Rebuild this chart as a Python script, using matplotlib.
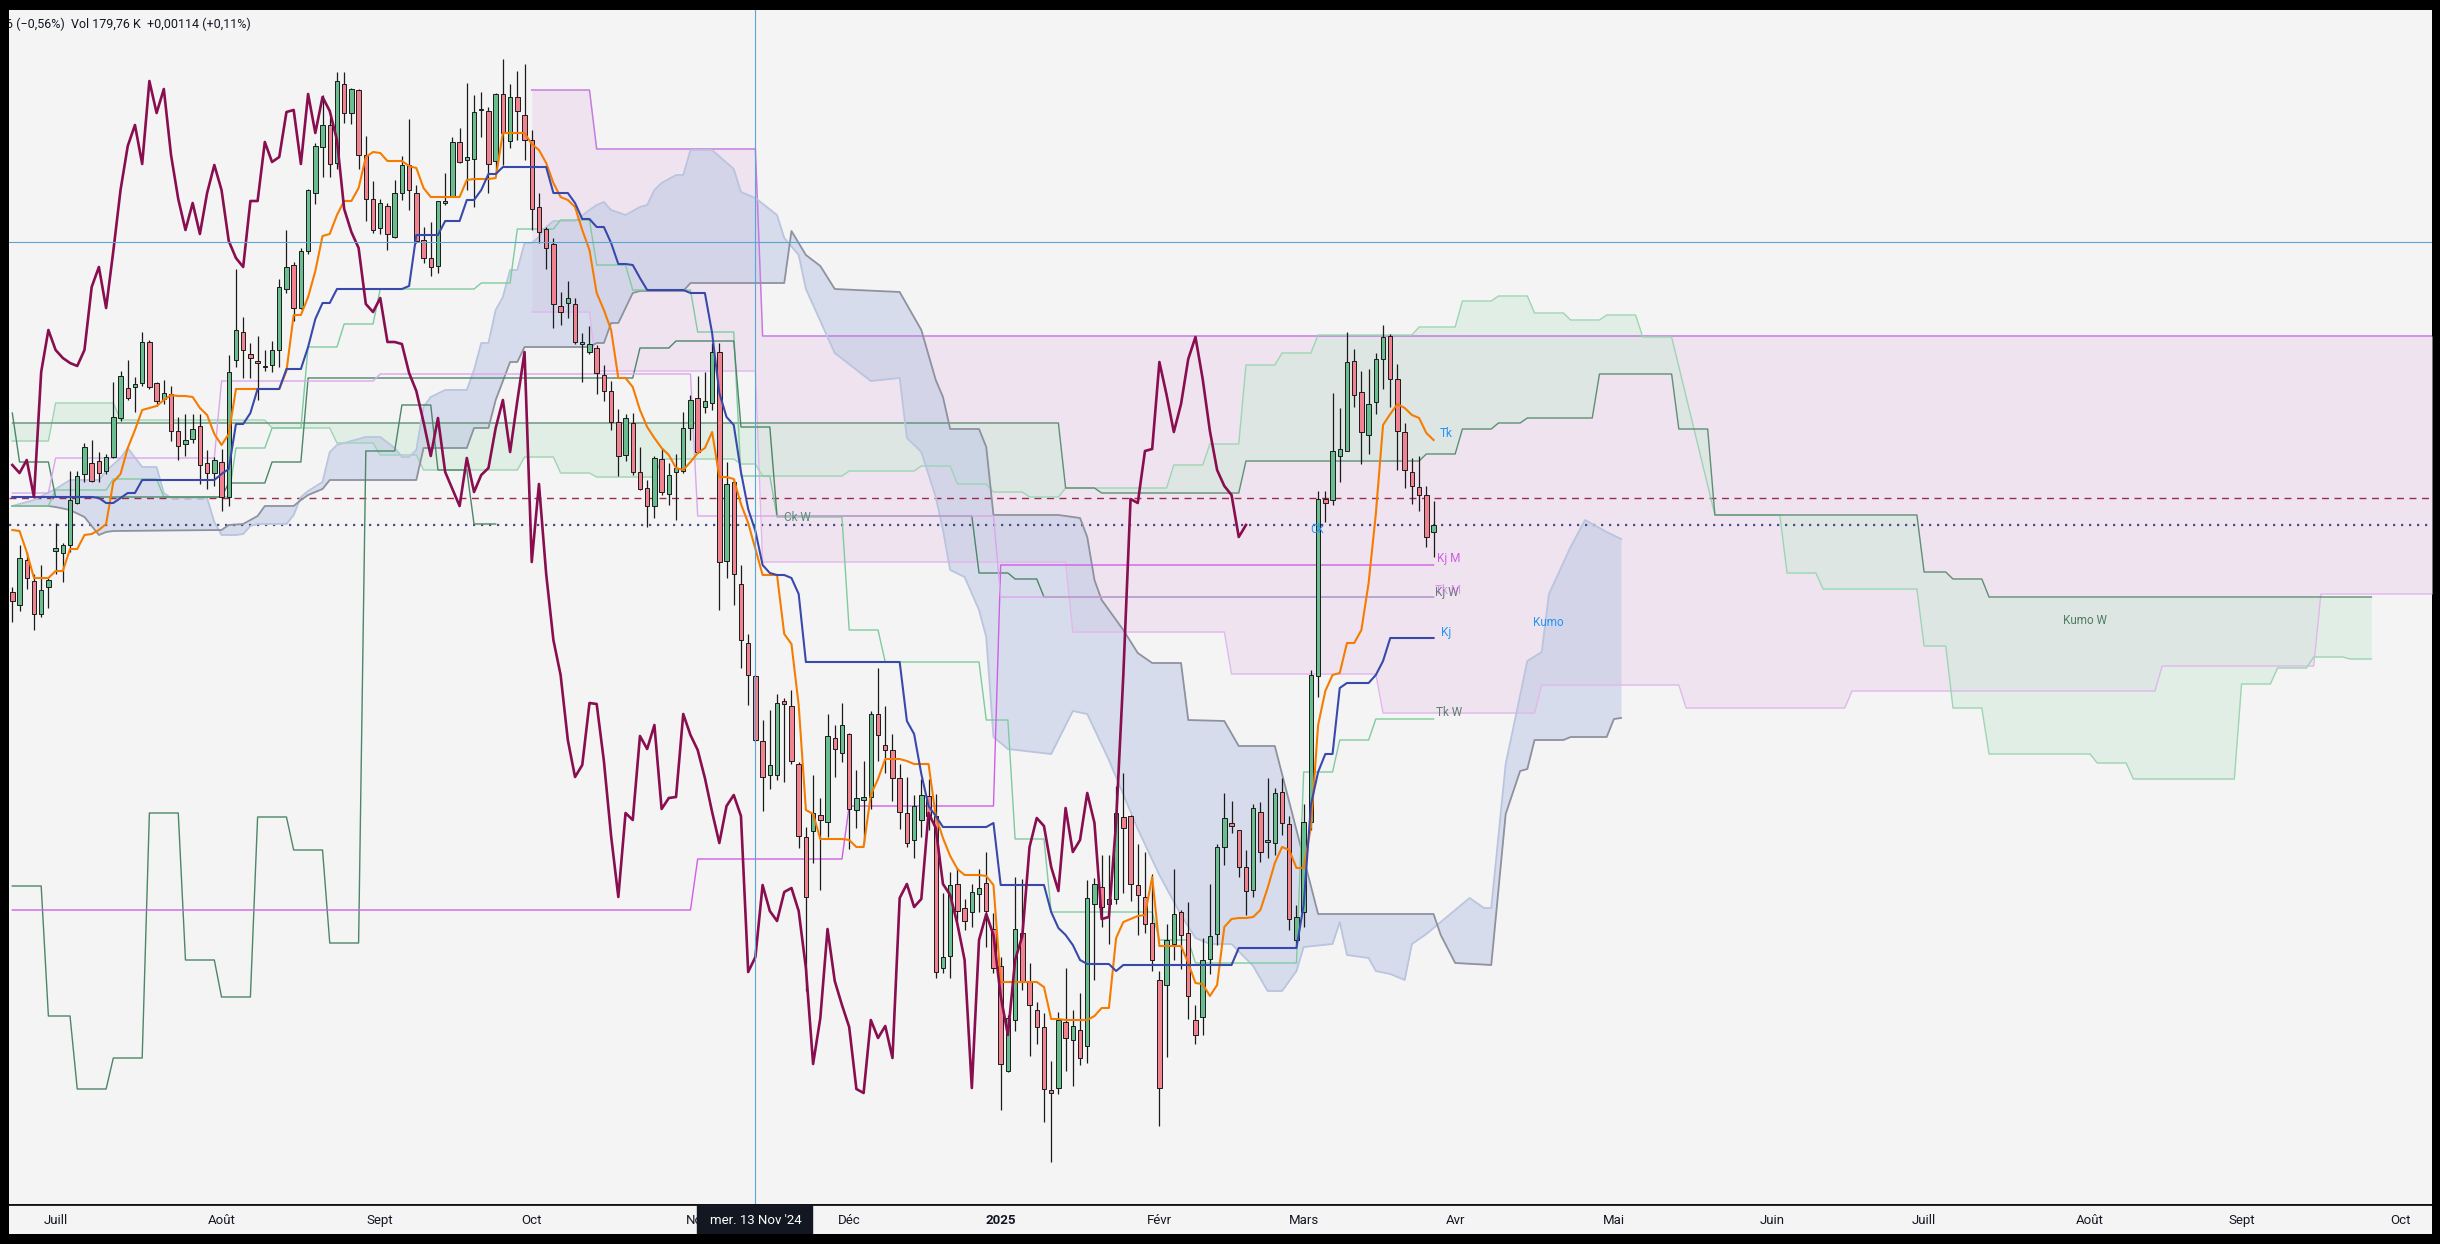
import numpy as np
import pandas as pd
import matplotlib
matplotlib.use("Agg")
import matplotlib.pyplot as plt
from matplotlib.patches import Rectangle

plt.rcParams['font.family'] = ['Roboto', 'DejaVu Sans']

# EUR/USD daily, 21 Jun 2024 -> 27 Mar 2025
# bar numbers are counted from Mon 1 Jul 2024 (= 0), the first candle is bar -6
first_bar = -6

opens = [1.0688, 1.0675, 1.0720, 1.0699, 1.0666, 1.0693,
         1.0729, 1.0727, 1.0735, 1.0777, 1.0806, 1.0817, 1.0819, 1.0809, 1.0823, 1.0862,
         1.0892, 1.0893, 1.0897, 1.0938, 1.0897, 1.0881, 1.0886, 1.0849, 1.0836, 1.0841,
         1.0854, 1.0817, 1.0807, 1.0818, 1.0783, 1.0920, 1.0948, 1.0926, 1.0919, 1.0913,
         1.0915, 1.0930, 1.0991, 1.1015, 1.0972, 1.1029, 1.1087, 1.1133, 1.1155, 1.1117,
         1.1196, 1.1167, 1.1190, 1.1125, 1.1081, 1.1052, 1.1074, 1.1043, 1.1087, 1.1115,
         1.1087, 1.1040, 1.1022, 1.1014, 1.1077, 1.1083, 1.1138, 1.1120, 1.1121, 1.1170,
         1.1169, 1.1119, 1.1186, 1.1139, 1.1183, 1.1165, 1.1140, 1.1073, 1.1051, 1.1036,
         1.0974, 1.0977, 1.0976, 1.0936, 1.0928, 1.0932, 1.0905, 1.0889, 1.0858, 1.0825,
         1.0857, 1.0808, 1.0792, 1.0774, 1.0821, 1.0786, 1.0808, 1.0809, 1.0852, 1.0882,
         1.0873, 1.0877, 1.0928, 1.0719, 1.0798, 1.0696, 1.0637, 1.0604, 1.0539, 1.0505,
         1.0505, 1.0579, 1.0574, 1.0516, 1.0443, 1.0449, 1.0465, 1.0458, 1.0542, 1.0527,
         1.0546, 1.0470, 1.0480, 1.0483, 1.0566, 1.0535, 1.0530, 1.0502, 1.0467, 1.0440,
         1.0460, 1.0484, 1.0464, 1.0312, 1.0324, 1.0396, 1.0372, 1.0368, 1.0386, 1.0397,
         1.0351, 1.0314, 1.0209, 1.0260, 1.0347, 1.0298, 1.0270, 1.0253, 1.0190, 1.0192,
         1.0258, 1.0240, 1.0250, 1.0234, 1.0376, 1.0393, 1.0376, 1.0381, 1.0463, 1.0464,
         1.0395, 1.0383, 1.0357, 1.0300, 1.0295, 1.0336, 1.0368, 1.0347, 1.0260, 1.0263,
         1.0321, 1.0346, 1.0433, 1.0457, 1.0450, 1.0413, 1.0390, 1.0468, 1.0438, 1.0437,
         1.0488, 1.0456, 1.0340, 1.0368, 1.0458, 1.0604, 1.0781, 1.0780, 1.0824, 1.0829,
         1.0919, 1.0888, 1.0845, 1.0878, 1.0921, 1.0944, 1.0901, 1.0848, 1.0808, 1.0793,
         1.0785, 1.0748]
highs = [1.0693, 1.0735, 1.0728, 1.0706, 1.0715, 1.0702,
         1.0757, 1.0737, 1.0809, 1.0809, 1.0837, 1.0840, 1.0828, 1.0826, 1.0898, 1.0909,
         1.0920, 1.0903, 1.0948, 1.0940, 1.0898, 1.0900, 1.0894, 1.0863, 1.0866, 1.0866,
         1.0866, 1.0830, 1.0823, 1.0831, 1.0925, 1.1011, 1.0963, 1.0937, 1.0944, 1.0930,
         1.0939, 1.1001, 1.1050, 1.1018, 1.1032, 1.1091, 1.1137, 1.1185, 1.1163, 1.1208,
         1.1208, 1.1192, 1.1191, 1.1144, 1.1099, 1.1081, 1.1077, 1.1100, 1.1124, 1.1161,
         1.1095, 1.1053, 1.1058, 1.1079, 1.1107, 1.1143, 1.1152, 1.1197, 1.1185, 1.1188,
         1.1173, 1.1187, 1.1221, 1.1196, 1.1209, 1.1216, 1.1150, 1.1087, 1.1053, 1.1042,
         1.0988, 1.0999, 1.0982, 1.0947, 1.0954, 1.0935, 1.0915, 1.0899, 1.0871, 1.0866,
         1.0867, 1.0833, 1.0800, 1.0824, 1.0832, 1.0817, 1.0826, 1.0868, 1.0885, 1.0904,
         1.0908, 1.0937, 1.0937, 1.0818, 1.0801, 1.0715, 1.0646, 1.0606, 1.0560, 1.0570,
         1.0586, 1.0582, 1.0590, 1.0518, 1.0453, 1.0505, 1.0482, 1.0566, 1.0555, 1.0577,
         1.0547, 1.0510, 1.0519, 1.0569, 1.0612, 1.0574, 1.0546, 1.0516, 1.0503, 1.0485,
         1.0501, 1.0501, 1.0486, 1.0387, 1.0408, 1.0412, 1.0381, 1.0396, 1.0411, 1.0428,
         1.0367, 1.0323, 1.0265, 1.0403, 1.0401, 1.0317, 1.0278, 1.0267, 1.0219, 1.0268,
         1.0312, 1.0270, 1.0287, 1.0400, 1.0402, 1.0425, 1.0425, 1.0494, 1.0507, 1.0465,
         1.0436, 1.0428, 1.0406, 1.0309, 1.0356, 1.0411, 1.0370, 1.0378, 1.0275, 1.0342,
         1.0396, 1.0436, 1.0487, 1.0479, 1.0450, 1.0430, 1.0476, 1.0478, 1.0502, 1.0492,
         1.0502, 1.0464, 1.0375, 1.0476, 1.0610, 1.0789, 1.0789, 1.0887, 1.0872, 1.0948,
         1.0931, 1.0909, 1.0911, 1.0927, 1.0955, 1.0946, 1.0916, 1.0857, 1.0822, 1.0824,
         1.0794, 1.0779]
lows = [1.0658, 1.0669, 1.0691, 1.0650, 1.0663, 1.0672,
        1.0706, 1.0698, 1.0728, 1.0776, 1.0798, 1.0798, 1.0798, 1.0806, 1.0822, 1.0859,
        1.0880, 1.0868, 1.0894, 1.0891, 1.0874, 1.0876, 1.0839, 1.0820, 1.0824, 1.0837,
        1.0796, 1.0791, 1.0794, 1.0769, 1.0774, 1.0913, 1.0902, 1.0902, 1.0880, 1.0909,
        1.0908, 1.0913, 1.0987, 1.0959, 1.0971, 1.1026, 1.1076, 1.1103, 1.1103, 1.1111,
        1.1157, 1.1156, 1.1111, 1.1059, 1.1047, 1.1046, 1.1030, 1.1042, 1.1080, 1.1070,
        1.1037, 1.1017, 1.1004, 1.1007, 1.1075, 1.1083, 1.1117, 1.1090, 1.1073, 1.1143,
        1.1087, 1.1108, 1.1115, 1.1132, 1.1140, 1.1120, 1.1050, 1.1037, 1.1011, 1.0952,
        1.0955, 1.0962, 1.0936, 1.0898, 1.0926, 1.0886, 1.0879, 1.0850, 1.0804, 1.0819,
        1.0805, 1.0790, 1.0753, 1.0762, 1.0785, 1.0775, 1.0760, 1.0807, 1.0840, 1.0827,
        1.0867, 1.0870, 1.0670, 1.0702, 1.0675, 1.0612, 1.0575, 1.0538, 1.0469, 1.0491,
        1.0500, 1.0498, 1.0516, 1.0432, 1.0289, 1.0417, 1.0390, 1.0443, 1.0503, 1.0518,
        1.0431, 1.0452, 1.0437, 1.0471, 1.0519, 1.0507, 1.0479, 1.0451, 1.0433, 1.0422,
        1.0443, 1.0450, 1.0302, 1.0307, 1.0302, 1.0359, 1.0350, 1.0353, 1.0368, 1.0333,
        1.0307, 1.0170, 1.0208, 1.0249, 1.0290, 1.0224, 1.0236, 1.0158, 1.0118, 1.0186,
        1.0209, 1.0194, 1.0215, 1.0217, 1.0300, 1.0353, 1.0336, 1.0376, 1.0387, 1.0379,
        1.0345, 1.0347, 1.0309, 1.0154, 1.0223, 1.0320, 1.0311, 1.0261, 1.0236, 1.0245,
        1.0306, 1.0335, 1.0415, 1.0447, 1.0403, 1.0365, 1.0383, 1.0418, 1.0422, 1.0425,
        1.0445, 1.0350, 1.0334, 1.0353, 1.0450, 1.0583, 1.0758, 1.0775, 1.0798, 1.0829,
        1.0873, 1.0816, 1.0826, 1.0866, 1.0891, 1.0873, 1.0810, 1.0792, 1.0776, 1.0769,
        1.0733, 1.0723]
closes = [1.0679, 1.0722, 1.0702, 1.0666, 1.0690, 1.0700,
          1.0732, 1.0735, 1.0780, 1.0804, 1.0833, 1.0799, 1.0807, 1.0823, 1.0863, 1.0904,
          1.0882, 1.0896, 1.0938, 1.0893, 1.0879, 1.0887, 1.0849, 1.0834, 1.0840, 1.0851,
          1.0815, 1.0807, 1.0820, 1.0783, 1.0908, 1.0950, 1.0930, 1.0922, 1.0917, 1.0914,
          1.0930, 1.0993, 1.1013, 1.0972, 1.1029, 1.1090, 1.1134, 1.1155, 1.1116, 1.1199,
          1.1167, 1.1191, 1.1125, 1.1081, 1.1050, 1.1077, 1.1046, 1.1087, 1.1115, 1.1090,
          1.1039, 1.1022, 1.1013, 1.1079, 1.1079, 1.1138, 1.1118, 1.1123, 1.1168, 1.1170,
          1.1116, 1.1186, 1.1147, 1.1183, 1.1169, 1.1140, 1.1071, 1.1048, 1.1032, 1.0976,
          1.0968, 1.0982, 1.0938, 1.0938, 1.0936, 1.0907, 1.0889, 1.0858, 1.0824, 1.0862,
          1.0808, 1.0791, 1.0774, 1.0822, 1.0788, 1.0805, 1.0812, 1.0852, 1.0880, 1.0828,
          1.0879, 1.0928, 1.0718, 1.0796, 1.0706, 1.0640, 1.0605, 1.0540, 1.0503, 1.0515,
          1.0577, 1.0576, 1.0519, 1.0444, 1.0383, 1.0467, 1.0460, 1.0544, 1.0531, 1.0555,
          1.0471, 1.0482, 1.0483, 1.0566, 1.0545, 1.0530, 1.0502, 1.0468, 1.0437, 1.0474,
          1.0485, 1.0464, 1.0308, 1.0323, 1.0395, 1.0369, 1.0359, 1.0388, 1.0392, 1.0369,
          1.0312, 1.0216, 1.0262, 1.0351, 1.0299, 1.0275, 1.0253, 1.0191, 1.0187, 1.0260,
          1.0242, 1.0254, 1.0222, 1.0382, 1.0396, 1.0373, 1.0381, 1.0467, 1.0452, 1.0396,
          1.0385, 1.0356, 1.0320, 1.0192, 1.0340, 1.0366, 1.0345, 1.0284, 1.0245, 1.0320,
          1.0344, 1.0433, 1.0462, 1.0454, 1.0413, 1.0389, 1.0472, 1.0428, 1.0440, 1.0487,
          1.0457, 1.0361, 1.0363, 1.0458, 1.0605, 1.0781, 1.0777, 1.0829, 1.0831, 1.0918,
          1.0885, 1.0848, 1.0876, 1.0921, 1.0943, 1.0901, 1.0849, 1.0810, 1.0794, 1.0785,
          1.0743, 1.0755]

# daily Ichimoku lines, one value per candle
tenkan = [1.0750, 1.0749, 1.0728, 1.0702, 1.0702, 1.0702,
          1.0709, 1.0709, 1.0731, 1.0731, 1.0745, 1.0746, 1.0750, 1.0756, 1.0798, 1.0806,
          1.0832, 1.0850, 1.0870, 1.0872, 1.0874, 1.0880, 1.0885, 1.0884, 1.0884, 1.0883,
          1.0872, 1.0865, 1.0846, 1.0835, 1.0846, 1.0891, 1.0891, 1.0891, 1.0891, 1.0891,
          1.0891, 1.0891, 1.0909, 1.0965, 1.0965, 1.0983, 1.1009, 1.1044, 1.1046, 1.1065,
          1.1079, 1.1079, 1.1092, 1.1123, 1.1128, 1.1127, 1.1119, 1.1119, 1.1119, 1.1114,
          1.1112, 1.1092, 1.1083, 1.1083, 1.1083, 1.1083, 1.1083, 1.1100, 1.1101, 1.1101,
          1.1101, 1.1102, 1.1147, 1.1147, 1.1147, 1.1147, 1.1136, 1.1130, 1.1117, 1.1097,
          1.1083, 1.1080, 1.1073, 1.1050, 1.1030, 1.0987, 1.0970, 1.0950, 1.0902, 1.0902,
          1.0893, 1.0870, 1.0853, 1.0842, 1.0832, 1.0825, 1.0812, 1.0810, 1.0818, 1.0827,
          1.0832, 1.0848, 1.0803, 1.0803, 1.0801, 1.0776, 1.0757, 1.0731, 1.0705, 1.0705,
          1.0705, 1.0646, 1.0636, 1.0575, 1.0470, 1.0466, 1.0441, 1.0441, 1.0441, 1.0441,
          1.0440, 1.0433, 1.0433, 1.0485, 1.0501, 1.0521, 1.0521, 1.0521, 1.0519, 1.0516,
          1.0516, 1.0516, 1.0464, 1.0442, 1.0424, 1.0411, 1.0405, 1.0405, 1.0405, 1.0404,
          1.0395, 1.0298, 1.0298, 1.0298, 1.0298, 1.0298, 1.0298, 1.0293, 1.0261, 1.0261,
          1.0260, 1.0260, 1.0260, 1.0260, 1.0264, 1.0272, 1.0272, 1.0342, 1.0358, 1.0361,
          1.0364, 1.0365, 1.0403, 1.0334, 1.0334, 1.0334, 1.0334, 1.0317, 1.0297, 1.0296,
          1.0284, 1.0295, 1.0353, 1.0361, 1.0362, 1.0362, 1.0363, 1.0370, 1.0392, 1.0417,
          1.0433, 1.0430, 1.0412, 1.0412, 1.0453, 1.0555, 1.0589, 1.0605, 1.0607, 1.0637,
          1.0637, 1.0650, 1.0697, 1.0766, 1.0855, 1.0866, 1.0876, 1.0872, 1.0865, 1.0862,
          1.0847, 1.0840]
kijun = [1.0783, 1.0783, 1.0783, 1.0783, 1.0783, 1.0783,
         1.0783, 1.0783, 1.0783, 1.0783, 1.0783, 1.0783, 1.0782, 1.0777, 1.0777, 1.0782,
         1.0787, 1.0787, 1.0800, 1.0800, 1.0800, 1.0800, 1.0800, 1.0800, 1.0800, 1.0800,
         1.0800, 1.0800, 1.0800, 1.0806, 1.0811, 1.0856, 1.0856, 1.0867, 1.0891, 1.0891,
         1.0891, 1.0891, 1.0911, 1.0911, 1.0911, 1.0933, 1.0961, 1.0977, 1.0977, 1.0991,
         1.0991, 1.0991, 1.0991, 1.0991, 1.0991, 1.0991, 1.0991, 1.0991, 1.0991, 1.0994,
         1.1045, 1.1045, 1.1045, 1.1045, 1.1059, 1.1059, 1.1059, 1.1080, 1.1080, 1.1090,
         1.1106, 1.1106, 1.1113, 1.1113, 1.1113, 1.1113, 1.1113, 1.1113, 1.1113, 1.1087,
         1.1087, 1.1087, 1.1077, 1.1061, 1.1061, 1.1053, 1.1053, 1.1037, 1.1016, 1.1016,
         1.1015, 1.1002, 1.0990, 1.0990, 1.0990, 1.0990, 1.0990, 1.0990, 1.0987, 1.0987,
         1.0987, 1.0947, 1.0887, 1.0863, 1.0855, 1.0808, 1.0771, 1.0749, 1.0715, 1.0707,
         1.0705, 1.0705, 1.0702, 1.0686, 1.0618, 1.0618, 1.0618, 1.0618, 1.0618, 1.0618,
         1.0618, 1.0618, 1.0618, 1.0618, 1.0618, 1.0618, 1.0618, 1.0618, 1.0559, 1.0546,
         1.0506, 1.0474, 1.0464, 1.0453, 1.0453, 1.0453, 1.0453, 1.0453, 1.0453, 1.0453,
         1.0457, 1.0395, 1.0395, 1.0395, 1.0395, 1.0395, 1.0395, 1.0395, 1.0368, 1.0352,
         1.0345, 1.0335, 1.0320, 1.0316, 1.0316, 1.0316, 1.0316, 1.0309, 1.0315, 1.0315,
         1.0315, 1.0315, 1.0315, 1.0315, 1.0315, 1.0315, 1.0315, 1.0315, 1.0315, 1.0315,
         1.0315, 1.0315, 1.0315, 1.0315, 1.0332, 1.0332, 1.0332, 1.0332, 1.0332, 1.0332,
         1.0332, 1.0332, 1.0332, 1.0375, 1.0475, 1.0508, 1.0526, 1.0526, 1.0592, 1.0597,
         1.0597, 1.0597, 1.0597, 1.0605, 1.0619, 1.0642, 1.0642, 1.0642, 1.0642, 1.0642,
         1.0642, 1.0642]
chikou_shift = 26

# daily kumo (spans A and B, already 26 bars ahead): (bar, price)
span_a = [(-6, 1.0774), (-3, 1.0780), (0, 1.0791), (2, 1.0800), (6, 1.0800), (7, 1.0809),
          (9, 1.0822), (10, 1.0832), (12, 1.0813), (14, 1.0813), (15, 1.0787), (16, 1.0782),
          (21, 1.0782), (22, 1.0758), (23, 1.0745), (25, 1.0745), (26, 1.0746), (27, 1.0754),
          (28, 1.0756), (32, 1.0756), (33, 1.0765), (34, 1.0783), (35, 1.0789), (37, 1.0798),
          (38, 1.0828), (39, 1.0835), (41, 1.0839), (43, 1.0843), (45, 1.0843), (47, 1.0832),
          (48, 1.0823), (49, 1.0823), (50, 1.0830), (51, 1.0873), (52, 1.0883), (54, 1.0890),
          (57, 1.0890), (58, 1.0910), (59, 1.0937), (60, 1.0937), (61, 1.0970), (62, 1.0983),
          (63, 1.1010), (64, 1.1010), (65, 1.1037), (66, 1.1037), (67, 1.1043), (68, 1.1053),
          (69, 1.1059), (72, 1.1059), (74, 1.1070), (75, 1.1075), (76, 1.1078), (77, 1.1070),
          (79, 1.1065), (81, 1.1073), (82, 1.1075), (83, 1.1090), (84, 1.1097), (86, 1.1105),
          (87, 1.1105), (88, 1.1130), (91, 1.1130), (94, 1.1111), (95, 1.1088), (97, 1.1082),
          (100, 1.1065), (101, 1.1042), (103, 1.1025), (104, 1.0991), (108, 1.0927),
          (113, 1.0899), (117, 1.0902), (118, 1.0842), (120, 1.0828), (122, 1.0783),
          (123, 1.0750), (124, 1.0710), (126, 1.0703), (128, 1.0670), (129, 1.0643),
          (130, 1.0543), (132, 1.0531), (138, 1.0526), (141, 1.0569),
          (143, 1.0566), (146, 1.0520), (150, 1.0451), (153, 1.0405), (156, 1.0365),
          (158, 1.0342), (160, 1.0336), (163, 1.0336), (166, 1.0314), (168, 1.0289),
          (170, 1.0289), (172, 1.0309), (173, 1.0333), (177, 1.0336), (178, 1.0358),
          (179, 1.0325), (182, 1.0322), (183, 1.0309), (185, 1.0306), (187, 1.0300),
          (188, 1.0336), (190, 1.0346), (194, 1.0370), (196, 1.0382), (198, 1.0372),
          (199, 1.0372), (201, 1.0516), (204, 1.0619), (206, 1.0628), (207, 1.0686),
          (210, 1.0733), (212, 1.0760), (215, 1.0748), (217, 1.0741)]
span_b = [(-6, 1.0774), (-1, 1.0774), (0, 1.0773), (2, 1.0770), (4, 1.0763), (5, 1.0754),
          (6, 1.0745), (7, 1.0748), (8, 1.0749), (23, 1.0750), (24, 1.0755), (26, 1.0756),
          (28, 1.0764), (29, 1.0774), (33, 1.0774), (34, 1.0780), (35, 1.0785), (37, 1.0791),
          (38, 1.0800), (50, 1.0800), (51, 1.0832), (57, 1.0832), (58, 1.0852), (60, 1.0852),
          (61, 1.0880), (63, 1.0918), (64, 1.0918), (65, 1.0933), (74, 1.0933), (75, 1.0937),
          (76, 1.0937), (77, 1.0957), (78, 1.0957), (80, 1.0987), (81, 1.0989), (87, 1.0989),
          (88, 1.0997), (101, 1.0997), (102, 1.1049), (104, 1.1025), (106, 1.1014),
          (108, 1.0991), (117, 1.0988), (120, 1.0950), (122, 1.0900), (123, 1.0883),
          (124, 1.0851), (128, 1.0851), (129, 1.0833), (130, 1.0765), (139, 1.0765),
          (142, 1.0762), (143, 1.0743), (144, 1.0700), (145, 1.0680), (146, 1.0670),
          (148, 1.0650), (150, 1.0627), (152, 1.0617), (156, 1.0617),
          (157, 1.0560), (162, 1.0559), (164, 1.0534), (169, 1.0534), (175, 1.0366),
          (191, 1.0366), (192, 1.0345), (194, 1.0317), (199, 1.0315), (201, 1.0466),
          (203, 1.0509), (204, 1.0511), (205, 1.0540), (209, 1.0540), (210, 1.0543),
          (215, 1.0543), (216, 1.0561), (217, 1.0562)]

# weekly and monthly levels as drawn on the daily bars: (first bar, last bar, price)
kumo_w_a = [(-6, -1, 1.0839), (0, 8, 1.0877), (9, 29, 1.0860), (30, 38, 1.0852),
            (39, 44, 1.0837), (45, 50, 1.0825), (51, 64, 1.0810), (65, 69, 1.0823),
            (70, 74, 1.0807), (75, 83, 1.0803), (84, 94, 1.0821), (95, 97, 1.0816),
            (98, 109, 1.0804), (110, 119, 1.0809), (120, 124, 1.0814), (125, 129, 1.0796),
            (130, 134, 1.0788), (135, 139, 1.0783), (140, 154, 1.0792), (155, 159, 1.0815),
            (160, 164, 1.0836),
            (165, 169, 1.0915), (170, 174, 1.0927), (175, 188, 1.0945), (189, 194, 1.0953),
            (195, 199, 1.0979), (200, 204, 1.0984), (205, 209, 1.0967), (210, 214, 1.0960),
            (215, 219, 1.0965), (220, 224, 1.0943), (230, 239, 1.0765), (240, 244, 1.0707),
            (245, 258, 1.0691), (259, 262, 1.0634), (263, 267, 1.0572), (268, 282, 1.0526),
            (283, 287, 1.0517), (288, 302, 1.0501), (303, 307, 1.0596), (308, 312, 1.0612),
            (313, 317, 1.0623), (318, 321, 1.0621)]
kumo_w_b = [(-6, 139, 1.0857), (140, 144, 1.0792), (145, 164, 1.0787), (165, 189, 1.0819),
            (190, 194, 1.0826), (195, 199, 1.0851), (200, 203, 1.0857), (204, 213, 1.0862),
            (214, 224, 1.0906), (225, 229, 1.0851), (230, 258, 1.0765), (259, 262, 1.0708),
            (263, 267, 1.0701), (268, 321, 1.0683)]
tk_w = [(-6, -1, 1.0774), (0, 7, 1.0790), (8, 14, 1.0801), (15, 24, 1.0783),
        (25, 29, 1.0832), (30, 34, 1.0852),
        (35, 39, 1.0933), (40, 44, 1.0956), (45, 58, 1.0991), (59, 63, 1.0997),
        (64, 69, 1.1051), (70, 74, 1.1060), (75, 79, 1.1015), (80, 88, 1.0990),
        (89, 94, 1.0948), (95, 99, 1.0804), (100, 109, 1.0763), (110, 114, 1.0650),
        (115, 128, 1.0618), (129, 132, 1.0560), (133, 137, 1.0441), (138, 152, 1.0368),
        (153, 157, 1.0340), (158, 172, 1.0317), (173, 177, 1.0508), (178, 182, 1.0540),
        (183, 191, 1.0561)]
kj_w = [(-6, -6, 1.0867), (-5, -1, 1.0818), (0, 23, 1.0783), (24, 29, 1.0797),
        (30, 34, 1.0818), (35, 80, 1.0902), (81, 85, 1.0932), (86, 94, 1.0939),
        (95, 99, 1.0853), (100, 127, 1.0764), (128, 132, 1.0707), (133, 136, 1.0701),
        (137, 191, 1.0683)]
ck_w = [(-6, -2, 1.0394), (-1, 2, 1.0264), (3, 7, 1.0191), (8, 12, 1.0222),
        (13, 17, 1.0467), (18, 22, 1.0320), (23, 27, 1.0283), (28, 32, 1.0463),
        (33, 37, 1.0430), (38, 42, 1.0337), (43, 47, 1.0829), (48, 52, 1.0875),
        (53, 57, 1.0810), (58, 61, 1.0756)]
kj_m = [(-6, 88, 1.0370), (89, 109, 1.0421), (110, 130, 1.0474), (131, 191, 1.0715)]
tk_m = [(-6, -1, 1.0787), (0, 22, 1.0822), (23, 44, 1.0899), (45, 88, 1.0906),
        (89, 130, 1.0764), (131, 191, 1.0683)]
kumo_m_top = [(66, 74, 1.1190), (75, 97, 1.1131), (98, 331, 1.0944)]
kumo_m_bot = [(66, 74, 1.0968), (75, 97, 1.0909), (98, 140, 1.0718), (141, 162, 1.0648),
              (163, 183, 1.0606), (184, 205, 1.0567), (206, 225, 1.0595), (226, 248, 1.0572),
              (249, 291, 1.0589), (292, 313, 1.0614), (314, 331, 1.0686)]

last_price = 1.0755
level_dashed = 1.0782
cross_bar, cross_price = 97, 1.1038
cross_text = "mer. 13 Nov '24"
header = "6 (\u22120,56%)  Vol 179,76 K  +0,00114 (+0,11%)"
months_fr = {1: '2025', 2: 'Févr', 3: 'Mars', 4: 'Avr', 5: 'Mai', 6: 'Juin', 7: 'Juill',
             8: 'Août', 9: 'Sept', 10: 'Oct', 11: 'Nov', 12: 'Déc'}

# trading calendar (weekdays, no 25 Dec / 1 Jan)
days = pd.bdate_range('2024-06-21', '2025-10-31')
days = days[~days.isin(pd.to_datetime(['2024-12-25', '2025-01-01']))]
bar_no = np.arange(len(days)) + first_bar


def step_xy(segs):
    xs, ys = [], []
    for a, b, v in segs:
        xs += [a, b]
        ys += [v, v]
    return np.array(xs, float), np.array(ys)


def knot_xy(pts):
    return np.array([p[0] for p in pts], float), np.array([p[1] for p in pts])


BG = '#f4f4f4'
fig = plt.figure(figsize=(24.4, 12.44), dpi=100, facecolor='black')
ax = fig.add_axes([9 / 2440, 1 - 1204 / 1244, 2423 / 2440, 1194 / 1244])
ax.set_facecolor(BG)
x0, x1 = -6.46, 329.4
ax.set_xlim(x0, x1)
ax.set_ylim(1.0076, 1.1270)
ax.set_xticks([])
ax.set_yticks([])
for s in ax.spines.values():
    s.set_visible(False)

# monthly kumo
mtx, mty = step_xy(kumo_m_top)
mbx, mby = step_xy(kumo_m_bot)
g = np.arange(66, 331.01, 0.05)
ax.fill_between(g, np.interp(g, mtx, mty), np.interp(g, mbx, mby), color='#ebd3ee', alpha=0.5, lw=0, zorder=1)
ax.plot(mtx, mty, color='#c77be0', lw=1.1, zorder=3)
ax.plot(mbx, mby, color='#e2b8ec', lw=1.0, zorder=3)

# weekly kumo
wax, way = step_xy(kumo_w_a)
wbx, wby = step_xy(kumo_w_b)
g = np.arange(x0, 321.01, 0.05)
ax.fill_between(g, np.interp(g, wax, way), np.interp(g, wbx, wby), color='#cde9d8', alpha=0.5, lw=0, zorder=1.1)
ax.plot(wax, way, color='#9dd5b3', lw=1.0, zorder=3)
ax.plot(wbx, wby, color='#5f8f75', lw=1.0, zorder=3)

# daily kumo
dax, day_ = knot_xy(span_a)
dbx, dby = knot_xy(span_b)
g = np.arange(x0, 217.01, 0.05)
ax.fill_between(g, np.interp(g, dax, day_), np.interp(g, dbx, dby), color='#bac6e3', alpha=0.5, lw=0, zorder=1.2)
ax.plot(dax, day_, color='#b9c4de', lw=1.3, zorder=3)
ax.plot(dbx, dby, color='#8e929f', lw=1.3, zorder=3)

# weekly / monthly lines
for segs, col in [(tk_w, '#7fcb9f'), (kj_w, '#4d8668'), (ck_w, '#4d8668'),
                  (kj_m, '#cf5fe6'), (tk_m, '#dba6ec')]:
    sx, sy = step_xy(segs)
    ax.plot(sx, sy, color=col, lw=1.0, zorder=3.2)

# price levels
ax.axhline(level_dashed, color='#9c2a4a', lw=1.0, ls=(0, (5, 4)), zorder=2.5)
ax.axhline(last_price, color='#4b4b8c', lw=1.6, ls=(0, (1, 2.6)), zorder=2.5)

# candles
bx = np.arange(len(opens)) + first_bar
o = np.array(opens)
h = np.array(highs)
l = np.array(lows)
c = np.array(closes)
up = c >= o
ax.vlines(bx, l, h, color='#1b1b1b', lw=0.9, zorder=5)
lo = np.minimum(o, c)
hh = np.maximum(np.abs(c - o), 0.00012)
ax.bar(bx[up], hh[up], 0.62, lo[up], color='#6abd8e', edgecolor='#1b1b1b', lw=0.7, zorder=6)
ax.bar(bx[~up], hh[~up], 0.62, lo[~up], color='#f0838f', edgecolor='#1b1b1b', lw=0.7, zorder=6)

# tenkan / kijun / chikou
ax.plot(bx, tenkan, color='#f57c00', lw=1.5, zorder=7)
ax.plot(bx, kijun, color='#3949ab', lw=1.5, zorder=7)
ax.plot(bx[chikou_shift:] - chikou_shift, c[chikou_shift:], color='#880e4f', lw=1.9, zorder=8)

# crosshair
ax.axvline(cross_bar, color='#5aa5d3', lw=0.8, zorder=9)
ax.axhline(cross_price, color='#5aa5d3', lw=0.8, zorder=9)

# line labels
lab = dict(fontsize=8.5, va='center', ha='left', zorder=10)
ax.text(191.9, 1.0847, 'Tk', color='#2196f3', **lab)
ax.text(173.9, 1.0751, 'Ck', color='#2196f3', **lab)
ax.text(191.5, 1.0722, 'Kj M', color='#d05ce3', **lab)
ax.text(191.2, 1.0688, 'Kj W', color='#5f7f6c', **lab)
ax.text(191.2, 1.0690, 'Tk M', color='#d05ce3', alpha=0.6, **lab)
ax.text(192.1, 1.0648, 'Kj', color='#2196f3', **lab)
ax.text(191.4, 1.0568, 'Tk W', color='#5f7f6c', **lab)
ax.text(204.8, 1.0658, 'Kumo', color='#2196f3', **lab)
ax.text(278.3, 1.0660, 'Kumo W', color='#4e7d64', **lab)
ax.text(101.0, 1.0763, 'Ck W', color='#5f8a74', **lab)

# legend line at the top
ax.text(-0.0012, 0.988, header, transform=ax.transAxes, fontsize=9, color='#131722',
        va='center', ha='left', clip_on=True, zorder=10)

# time axis strip
tx = fig.add_axes([9 / 2440, 1 - 1234 / 1244, 2423 / 2440, 30 / 1244])
tx.set_facecolor(BG)
tx.set_xlim(x0, x1)
tx.set_ylim(0, 1)
tx.set_xticks([])
tx.set_yticks([])
for s in tx.spines.values():
    s.set_visible(False)
tx.axhline(1, color='#111111', lw=2.0)
per = pd.Series(bar_no, index=days).groupby([days.year, days.month]).first()
for (yy, mm), b in per.items():
    if 0 <= b < x1 - 2:
        tx.text(b, 0.45, months_fr[mm], ha='center', va='center', fontsize=9.5,
                color='#131722', fontweight='bold' if mm == 1 else 'normal')
tx.add_patch(Rectangle((88.9, 0), 15.95, 0.97, color='#131722', zorder=5))
tx.text(cross_bar, 0.45, cross_text, ha='center', va='center', fontsize=9.5, color='white', zorder=6)

fig.savefig('out.png', dpi=100, facecolor='black')
